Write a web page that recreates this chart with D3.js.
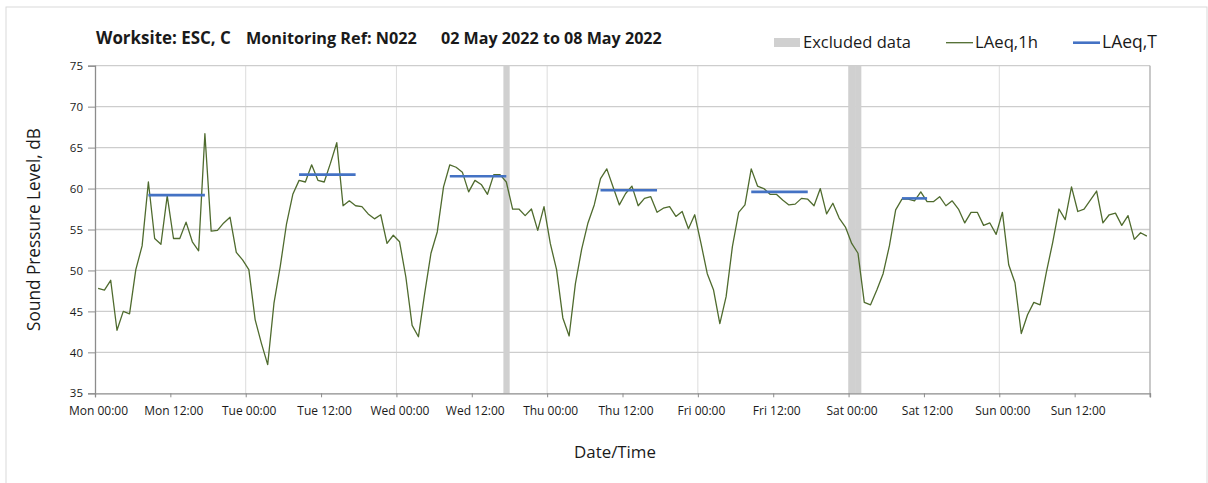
<!DOCTYPE html>
<html><head><meta charset="utf-8">
<script src="https://cdn.jsdelivr.net/npm/d3@7"></script>
<style>
html,body{margin:0;padding:0;background:#fff;}
text{font-family:"Open Sans",sans-serif;fill:#1a1a1a;}
</style></head>
<body>
<svg id="chart" width="1208" height="483"></svg>
<script>
// ---- data ----
const startTime = "2022-05-02T00:00:00Z"; // Monday
const laeq1h = [
 47.8,47.6,48.8,42.7,45.0,44.7,50.1,53.0,60.8,53.9,53.2,59.1,53.9,53.9,55.9,53.5,52.4,66.7,54.8,54.9,55.8,56.5,52.2,51.3,
 50.1,44.0,41.1,38.5,46.0,50.5,55.7,59.3,61.0,60.8,62.9,61.0,60.8,63.1,65.6,57.9,58.5,57.9,57.8,56.9,56.3,56.8,53.3,54.3,
 53.5,49.2,43.3,41.9,47.2,52.1,54.7,60.2,62.9,62.6,62.0,59.6,61.0,60.5,59.3,61.7,61.7,60.8,57.5,57.5,56.7,57.5,54.9,57.8,
 53.3,50.1,44.2,42.0,48.4,52.6,55.8,58.0,61.2,62.4,60.2,58.0,59.4,60.3,57.9,58.8,59.0,57.1,57.6,57.8,56.6,57.2,55.1,56.8,
 53.3,49.6,47.6,43.5,46.8,52.9,57.1,58.0,62.4,60.3,60.0,59.3,59.3,58.6,58.0,58.1,58.8,58.7,57.9,60.0,56.9,58.2,56.4,55.3,
 53.3,52.1,46.1,45.8,47.6,49.6,53.0,57.4,58.7,58.7,58.5,59.6,58.4,58.4,59.0,57.9,58.5,57.5,55.8,57.1,57.1,55.5,55.8,54.4,
 57.1,50.7,48.5,42.3,44.6,46.1,45.8,49.8,53.4,57.5,56.2,60.2,57.2,57.5,58.6,59.7,55.8,56.8,57.0,55.5,56.7,53.8,54.6,54.2
];
// LAeq,T periods: first and last hour index, value
const periodStart = [8, 32, 56, 80, 104, 128];
const periodEnd   = [17, 41, 65, 89, 113, 132];
const periodValue = [59.2, 61.7, 61.5, 59.8, 59.6, 58.8];
// Excluded data hour indices
const excludedHours = [65, 120, 121];
const yTicks = [35,40,45,50,55,60,65,70,75];
const titleParts = ["Worksite: ESC, C", "Monitoring Ref: N022", "02 May 2022 to 08 May 2022"];
const legendLabels = ["Excluded data", "LAeq,1h", "LAeq,T"];

// ---- layout ----
const svg = d3.select("#chart");
const L = 95, R = 1150, T = 65.7, B = 393.3;
const t0 = new Date(startTime);
const t1 = d3.utcDay.offset(t0, 7);
const x = d3.scaleUtc().domain([t0, t1]).range([L, R]);
const y = d3.scaleLinear().domain([35, 75]).range([B, T]);
const hourMid = i => d3.utcMinute.offset(t0, i * 60 + 30);
const hourAt = i => d3.utcHour.offset(t0, i);

// frame
svg.append("rect").attr("x", 6).attr("y", 7).attr("width", 1201).attr("height", 490)
  .attr("fill", "none").attr("stroke", "#d9d9d9").attr("stroke-width", 1);

// vertical gridlines (daily)
const days = d3.utcDay.range(d3.utcDay.offset(t0, 1), d3.utcDay.offset(t1, 1));
svg.append("g").selectAll("line").data(days).join("line")
  .attr("x1", d => x(d)).attr("x2", d => x(d)).attr("y1", T).attr("y2", B)
  .attr("stroke", "#dcdcdc").attr("stroke-width", 1);

// horizontal gridlines
svg.append("g").selectAll("line").data(yTicks.slice(1)).join("line")
  .attr("x1", L).attr("x2", R).attr("y1", d => y(d)).attr("y2", d => y(d))
  .attr("stroke", "#cdcdcd").attr("stroke-width", 1.3);

// excluded bars
const bw = x(hourAt(1)) - x(hourAt(0));
svg.append("g").selectAll("rect").data(excludedHours).join("rect")
  .attr("x", d => x(hourAt(d)) + 0.2)
  .attr("width", bw)
  .attr("y", y(75)).attr("height", y(35) - y(75))
  .attr("fill", "#d0d0d0");

// right border line
svg.append("line").attr("x1", R).attr("x2", R).attr("y1", T).attr("y2", B + 4)
  .attr("stroke", "#b0b0b0").attr("stroke-width", 1.2);

// axes
const yAxis = d3.axisLeft(y).tickValues(yTicks).tickSize(7).tickPadding(5).tickFormat(d3.format("d"));
const gy = svg.append("g").attr("transform", `translate(${L},0)`).call(yAxis);
gy.select(".domain").attr("stroke", "#8c8c8c").attr("stroke-width", 1.3);
gy.selectAll(".tick line").attr("stroke", "#8c8c8c");
gy.selectAll(".tick text").attr("font-family", "Open Sans").attr("font-size", 11.5).attr("fill", "#1a1a1a");

const xTicks = d3.utcHour.every(12).range(t0, d3.utcHour.offset(t1, 1));
const fmt = d3.utcFormat("%a %H:%M");
const xAxis = d3.axisBottom(x).tickValues(xTicks).tickSize(4).tickPadding(9)
  .tickFormat(d => (+d >= +t1 ? "" : fmt(d)));
const gx = svg.append("g").attr("transform", `translate(0,${B})`).call(xAxis);
gx.select(".domain").attr("stroke", "#8c8c8c").attr("stroke-width", 1.3);
gx.selectAll(".tick line").attr("stroke", "#8c8c8c");
gx.selectAll(".tick text").attr("font-family", "Open Sans").attr("font-size", 12)
  .attr("fill", "#1a1a1a").attr("dx", 3);

// LAeq,1h line
const line = d3.line().x((d, i) => x(hourMid(i))).y(d => y(d));
svg.append("path").datum(laeq1h).attr("d", line)
  .attr("fill", "none").attr("stroke", "#4f6b2e").attr("stroke-width", 1.3)
  .attr("stroke-linejoin", "round");

// LAeq,T segments
svg.append("g").selectAll("line").data(periodValue).join("line")
  .attr("x1", (d, i) => x(hourMid(periodStart[i])))
  .attr("x2", (d, i) => x(hourMid(periodEnd[i])))
  .attr("y1", d => y(d)).attr("y2", d => y(d))
  .attr("stroke", "#4472c4").attr("stroke-width", 2.6);

// text fit helper
function fit(sel, w, base) {
  sel.attr("font-size", base);
  const len = sel.node().getComputedTextLength();
  sel.attr("font-size", base * w / len);
}

// title
const titleX = [96, 246, 441], titleW = [135, 171, 221];
titleParts.forEach((t, i) => {
  const s = svg.append("text").attr("x", titleX[i]).attr("y", 43.5)
    .attr("font-weight", "bold").text(t);
  fit(s, titleW[i], 15);
});

// legend
svg.append("rect").attr("x", 774).attr("y", 38).attr("width", 26).attr("height", 9).attr("fill", "#d0d0d0");
svg.append("line").attr("x1", 946).attr("x2", 973).attr("y1", 42.7).attr("y2", 42.7)
  .attr("stroke", "#4f6b2e").attr("stroke-width", 1.3);
svg.append("line").attr("x1", 1073).attr("x2", 1100).attr("y1", 42.7).attr("y2", 42.7)
  .attr("stroke", "#4472c4").attr("stroke-width", 2.6);
const legX = [803, 975, 1102], legW = [108, 63, 55];
legendLabels.forEach((t, i) => {
  const s = svg.append("text").attr("x", legX[i]).attr("y", 47.5).text(t);
  fit(s, legW[i], 15);
});

// axis titles
const yl = svg.append("text").attr("transform", `translate(40,${(T + B) / 2}) rotate(-90)`)
  .attr("text-anchor", "middle").text("Sound Pressure Level, dB");
fit(yl, 203, 15);
const xl = svg.append("text").attr("x", 615).attr("y", 458)
  .attr("text-anchor", "middle").text("Date/Time");
fit(xl, 82, 15);
</script>
</body></html>
